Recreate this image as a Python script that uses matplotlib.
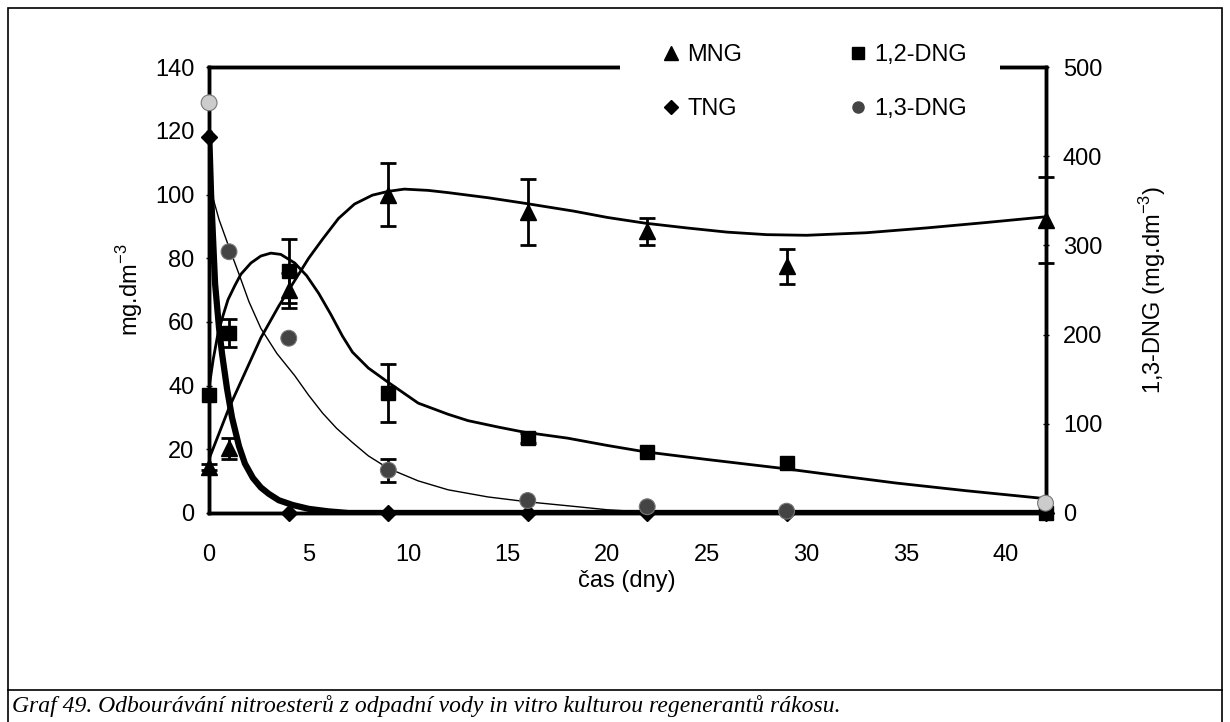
import matplotlib
matplotlib.use("Agg")
import matplotlib.pyplot as plt
from matplotlib.lines import Line2D
from matplotlib.patches import Rectangle

plt.rcParams['font.family'] = ['Liberation Sans', 'DejaVu Sans']
plt.rcParams['mathtext.fontset'] = 'custom'
plt.rcParams['mathtext.rm'] = 'Liberation Sans'

# measured points (days)
days = [0, 1, 4, 9, 16, 22, 29, 42]
mng = [14.5, 20.4, 70, 100, 94.5, 88.5, 77.5, 92]
mng_err = [1, 3.3, 5.5, 10, 10.3, 4.2, 5.5, 13.6]
dng12 = [37, 56.5, 76, 37.7, 23.5, 19.2, 15.7, 0]
dng12_err = [0, 4.4, 10, 9.1, 1.5, 0, 0, 0]
tng_days = [0, 4, 9, 16, 22, 29, 42]
tng = [118, 0, 0, 0, 0, 0, 0]
# 1,3-DNG on right axis
dng13 = [460, 293, 196, 48, 14, 7, 2, 11]
dng13_err = [0, 0, 0, 13, 0, 0, 0, 0]

# fitted curves
mng_fit_x = [0, 0.5, 1, 1.8, 2.6, 3.5, 4.3, 5, 5.7, 6.5, 7.3, 8.2, 9, 9.8, 11, 12, 14,
             15.8, 18.3, 20, 21.9, 24, 26, 28, 30, 33, 36, 39, 42]
mng_fit_y = [17, 25, 33, 44, 55, 65, 73, 80, 86, 92.5, 97, 99.8, 101, 101.7, 101.3, 100.6, 99,
             97.3, 94.8, 92.8, 91, 89.5, 88.2, 87.4, 87.2, 88, 89.5, 91.2, 93]
dng12_fit_x = [0, 0.2, 0.45, 0.7, 0.95, 1.3, 1.6, 2.1, 2.6, 3.1, 3.6, 4.3, 4.9, 5.5, 6.1,
               6.7, 7.2, 8, 9, 10.5, 12, 13, 14.5, 15.8, 18, 20, 21.9, 25, 28.8, 31.5,
               34.5, 38, 42]
dng12_fit_y = [39.5, 48, 56.5, 62, 67, 71.5, 75, 78.5, 80.7, 81.6, 81.2, 78.5, 74.5, 69, 62.5,
               55.5, 50.5, 45.5, 41, 34.5, 31, 29, 27, 25.4, 23.5, 21.2, 19.2, 16.8, 14, 11.8,
               9.4, 7, 4.5]
tng_fit_x = [0, 0.1, 0.3, 0.5, 0.65, 0.9, 1.15, 1.5, 1.8, 2.2, 2.6, 3, 3.5, 4.2, 5, 6, 7, 42]
tng_fit_y = [120, 100, 72, 58, 50, 39, 30, 21, 15.5, 11, 8, 6, 4, 2.5, 1.3, 0.5, 0, 0]
dng13_fit_x = [0, 0.15, 0.5, 1, 1.5, 2, 2.6, 3.4, 4.3, 5, 5.7, 6.4, 7.2, 8, 9, 10.5, 12, 14,
               16, 18.5, 20, 22, 42]
dng13_fit_y = [457, 357, 329, 298, 268, 237, 207, 179, 154, 132, 112, 95, 79, 64, 50, 36, 26,
               18, 12.5, 7, 3.6, 1, 0]

fig = plt.figure(figsize=(12.3, 7.22), dpi=100)
ax = fig.add_axes([0.170, 0.2895, 0.680, 0.6175])
ax2 = ax.twinx()

ax.plot(tng_fit_x, tng_fit_y, color='black', lw=4.5, solid_capstyle='butt',
        solid_joinstyle='round', zorder=2)
ax.plot(mng_fit_x, mng_fit_y, color='black', lw=2, zorder=2)
ax.plot(dng12_fit_x, dng12_fit_y, color='black', lw=2, zorder=2)
ax2.plot(dng13_fit_x, dng13_fit_y, color='black', lw=1, zorder=2)


def with_err(x, y, e):
    idx = [i for i in range(len(e)) if e[i] > 0]
    return [x[i] for i in idx], [y[i] for i in idx], [e[i] for i in idx]


ebar = dict(fmt='none', ecolor='black', capsize=6, elinewidth=2, capthick=2, clip_on=False)
ax.errorbar(*with_err(days, mng, mng_err), zorder=3, **ebar)
ax.errorbar(*with_err(days, dng12, dng12_err), zorder=3, **ebar)
ax2.errorbar(*with_err(days, dng13, dng13_err), zorder=3, **ebar)

ax.plot(days, mng, '^', color='black', ms=11, zorder=4, clip_on=False)
ax.plot(days, dng12, 's', color='black', ms=10, zorder=4, clip_on=False)
ax.plot(tng_days, tng, 'D', color='black', ms=8, zorder=4, clip_on=False)
dng13_colors = ['#cccccc'] + ['#444444'] * 6 + ['#cccccc']
ax2.scatter(days, dng13, s=130, c=dng13_colors, edgecolors='#777777',
            linewidths=0.8, zorder=4, clip_on=False)

ax.set_xlim(0, 42)
ax.set_ylim(0, 140)
ax2.set_ylim(0, 500)
ax.set_xticks(range(0, 45, 5))
ax.set_yticks(range(0, 141, 20))
ax2.set_yticks(range(0, 501, 100))
for a in (ax, ax2):
    for s in a.spines.values():
        s.set_linewidth(2.5)
ax.tick_params(axis='x', length=0, labelsize=17, pad=22)
ax.tick_params(axis='y', direction='inout', length=5, width=1, labelsize=17, pad=8)
ax2.tick_params(axis='y', direction='inout', length=5, width=1, labelsize=17, pad=10)

ax.set_xlabel('čas (dny)', fontsize=17, labelpad=3)
ax.set_ylabel('mg.dm$^{-3}$', fontsize=17, labelpad=7)
ax2.set_ylabel('1,3-DNG (mg.dm$^{-3}$)', fontsize=17, labelpad=25)

# white gap in the top spine behind the legend
ax2.add_patch(Rectangle((620 / 1230, 1 - 73 / 722), 380 / 1230, 12 / 722,
                        transform=fig.transFigure, facecolor='white', edgecolor='none',
                        zorder=5, clip_on=False))

handles = [
    Line2D([], [], marker='^', color='black', ls='none', ms=10),
    Line2D([], [], marker='D', color='black', ls='none', ms=7),
    Line2D([], [], marker='s', color='black', ls='none', ms=9),
    Line2D([], [], marker='o', color='#444444', ls='none', ms=8),
]
labels = ['MNG', 'TNG', '1,2-DNG', '1,3-DNG']
leg = fig.legend(handles, labels, ncol=2, loc='upper left',
                 bbox_to_anchor=(664 / 1230, 1 - 44 / 722), fontsize=17, frameon=False,
                 handlelength=0.6, handletextpad=0.4, columnspacing=4.6,
                 labelspacing=1.35, borderpad=0, borderaxespad=0)
leg.set_zorder(10)

# outer frame and caption box
fig.add_artist(Rectangle((8 / 1230, -0.1), 1214 / 1230, 1 - 8 / 722 + 0.1,
                         transform=fig.transFigure, fill=False, lw=1.2, edgecolor='black'))
fig.add_artist(Line2D([8 / 1230, 1222 / 1230], [1 - 690 / 722] * 2,
                      transform=fig.transFigure, color='black', lw=1.2))
fig.text(12 / 1230, 1 - 706 / 722,
         'Graf 49. Odbourávání nitroesterů z odpadní vody in vitro kulturou regenerantů rákosu.',
         family='Liberation Serif', style='italic', fontsize=17, va='center', ha='left')

fig.savefig('out.png', dpi=100)
